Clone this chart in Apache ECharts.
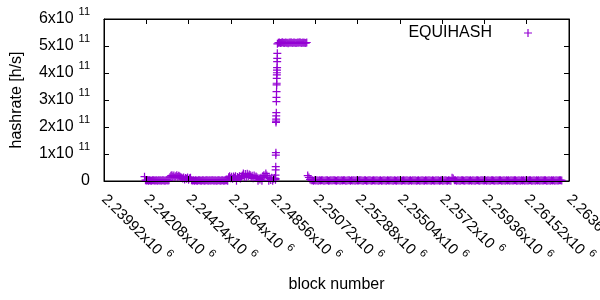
<!DOCTYPE html>
<html>
<head>
<meta charset="utf-8">
<script src="https://cdn.jsdelivr.net/npm/echarts@6/dist/echarts.min.js"></script>
<style>html,body{margin:0;padding:0;background:#fff}#c{width:600px;height:300px}</style>
</head>
<body>
<div id="c"></div>
<script>
// ---- data (hashrate values in units of 1e9 h/s) ----
const seriesName = 'EQUIHASH';
const HASH_UNIT = 1e9;
// each segment: first block number, block spacing of the samples, and the read values
const segA_start = 2241990, segA_step = 50;
const segA_values = [16,
  3,2,2.5,1,3,2,0.5,2.5,3,1.5,2,3,0.5,2.5,2,3,1,2.5,3,2,0.5,3,2.5,1.5,3,
  14,19,21,16,20,13,18,21,15,19,17,14,
  12,9,13,6,11,8,13,5,10,12,
  3,2,2.5,0.5,3,2,1,2.5,3,2,0.5,3,2.5,1,2,3,2.5,0.5,3,2,1.5,3,2.5,1,3,2,0.5,2.5,3,2,1,3,2.5,0.5,2,3,2.5,1,
  14,18,10,16,8,17,12,18,1,15,11,18,9,16,
  20,28,15,26,12,27,18,24,
  21,14,19,10,20,13,17,
  13,1,10,6,12,0.5,
  18,21,14,28,20,
  13,1,10,4,12,0.5,8,11];
const spike_start = 2248680, spike_step = 4;
const spike_values = [5,22,9,41,53,96,105,217,222,229,241,253,294,310,331,356,362,380,393,401,411,420,442,454,473,508];
const top_start = 2248830, top_step = 50;
const top_values = [512,513,511,512,514,512,511,513,512,512,510,513,512,514,511,512,513,512,511,512,513,512,514,512,511,513,512,512,511,513];
const segB_start = 2250330, segB_step = 59;
const segB_values = [
  20,13,6,3,2.5,1,3,2,2.5,0.5,
  3,2,2.5,3,1,2,3,2.5,0.5,2,
  3,1.5,2.5,3,2,0.5,3,2.5,1,3,
  2,2.5,3,0.5,2,3,2.5,1,3,2,
  2.5,0.5,3,2,1.5,3,2.5,2,0.5,3,
  2.5,1,2,3,2.5,0.5,2,2.5,1.5,2,
  2.5,0.5,2,2.5,1,2,2.5,2,0.5,2.5,
  2,1.5,2.5,2,0.5,2.5,2,1,2.5,2,
  2.5,0.5,2,2.5,1.5,2,2.5,0.5,2,2.5,
  1,2.5,2,2.5,0.5,2,2.5,1,2,2.5,
  2,0.5,2.5,2,1.5,2.5,2,0.5,2.5,2,
  1,2.5,2,2.5,0.5,2,2.5,1,2,2.5,
  2,0.5,2.5,2,1,12,9,3,2.5,0.5,
  3,2,1,2.5,3,2,0.5,2.5,3,1.5,
  2,3,0.5,2.5,2,1,3,2.5,2,0.5,
  3,2.5,1.5,2,3,0.5,2.5,2,1,3,
  2.5,2,0.5,3,2,1.5,2.5,3,0.5,2,
  2.5,1,3,2,2.5,0.5,3,2,1.5,2.5,
  3,0.5,2,2.5,1,3,2,2.5,0.5,3,
  2,1.5,2.5,3,0.5,2,2.5,1,3,2,
  2.5,0.5,3,2,1.5,2.5,3,0.5,2,2.5,
  1,3,2,2.5,0.5,3,2,1.5,2.5,3,
  2];

// ---- axes / ticks ----
const xMin = 2239920, xMax = 2263680, xInterval = 2160;
const xTickMantissa = ['2.23992','2.24208','2.24424','2.2464','2.24856','2.25072','2.25288','2.25504','2.2572','2.25936','2.26152','2.26368'];
const xTickExponent = '6';
const yMin = 0, yMax = 6e11, yInterval = 1e11;
const yTickMantissa = ['0','1','2','3','4','5','6'];
const yTickExponent = '11';

// ---- build points ----
function seg(start, step, vals) { return vals.map((v, i) => [start + i * step, v * HASH_UNIT]); }
const points = [].concat(
  seg(segA_start, segA_step, segA_values),
  seg(spike_start, spike_step, spike_values),
  seg(top_start, top_step, top_values),
  seg(segB_start, segB_step, segB_values)
);

const FONT = 'Liberation Sans, Arial, sans-serif';
const PURPLE = '#9400d3';
const CROSS = 'path://M6.8,0h2.4v6.8h6.8v2.4h-6.8v6.8h-2.4v-6.8h-6.8v-2.4h6.8z';
const richY = {
  m: { fontSize: 16, fontFamily: FONT, color: '#000', lineHeight: 26 },
  e: { fontSize: 11, fontFamily: FONT, color: '#000', lineHeight: 12, verticalAlign: 'top', padding: [0, 0, 0, 5] }
};
const richX = {
  m: { fontSize: 15, fontFamily: FONT, color: '#000', lineHeight: 24 },
  e: { fontSize: 11, fontFamily: FONT, color: '#000', lineHeight: 12, verticalAlign: 'top', padding: [0, 0, 0, 5] }
};
const tickStyle = { show: true, inside: true, length: 5, lineStyle: { color: '#000', width: 1 } };
const lineStyle = { show: true, onZero: false, lineStyle: { color: '#000', width: 1 } };

const chart = echarts.init(document.getElementById('c'), null, { renderer: 'canvas' });
chart.setOption({
  animation: false,
  backgroundColor: '#fff',
  grid: { left: 104, right: 31, top: 19, bottom: 119, show: true, borderColor: '#000', borderWidth: 1,
          backgroundColor: 'transparent', containLabel: false, outerBoundsMode: 'none' },
  legend: {
    data: [seriesName], right: 68, top: 25, padding: 0, align: 'right',
    icon: CROSS, itemWidth: 8, itemHeight: 8,
    textStyle: { fontSize: 16, fontFamily: FONT, color: '#000', padding: [0, 27, 0, 0] }
  },
  xAxis: [{
    type: 'value', min: xMin, max: xMax, interval: xInterval, position: 'bottom', z: 5,
    name: 'block number', nameLocation: 'middle', nameGap: 96,
    nameTextStyle: { fontSize: 16, fontFamily: FONT, color: '#000' },
    axisLine: lineStyle, axisTick: tickStyle, splitLine: { show: false },
    axisLabel: {
      rotate: -45, margin: 16, color: '#000', fontSize: 15, fontFamily: FONT, rich: richX,
      formatter: v => { const i = Math.round((v - xMin) / xInterval); return '{m|' + xTickMantissa[i] + 'x10}{e|' + xTickExponent + '}'; }
    }
  }, {
    type: 'value', min: xMin, max: xMax, interval: xInterval, position: 'top', z: 5,
    axisLine: lineStyle, axisTick: tickStyle, splitLine: { show: false }, axisLabel: { show: false }
  }],
  yAxis: [{
    type: 'value', min: yMin, max: yMax, interval: yInterval, position: 'left', z: 5,
    name: 'hashrate [h/s]', nameLocation: 'middle', nameGap: 79,
    nameTextStyle: { fontSize: 16, fontFamily: FONT, color: '#000' },
    axisLine: lineStyle, axisTick: tickStyle, splitLine: { show: false },
    axisLabel: {
      margin: 14, color: '#000', fontSize: 16, fontFamily: FONT, rich: richY,
      formatter: v => { const i = Math.round((v - yMin) / yInterval); return i === 0 ? '{m|0}' : '{m|' + yTickMantissa[i] + 'x10}{e|' + yTickExponent + '}'; }
    }
  }, {
    type: 'value', min: yMin, max: yMax, interval: yInterval, position: 'right', z: 5,
    axisLine: lineStyle, axisTick: tickStyle, splitLine: { show: false }, axisLabel: { show: false }
  }],
  series: [{
    name: seriesName, type: 'scatter', xAxisIndex: 0, yAxisIndex: 0,
    symbol: CROSS, symbolSize: 8, z: 2,
    itemStyle: { color: PURPLE, opacity: 1 },
    emphasis: { disabled: true },
    data: points
  }]
});
</script>
</body>
</html>
